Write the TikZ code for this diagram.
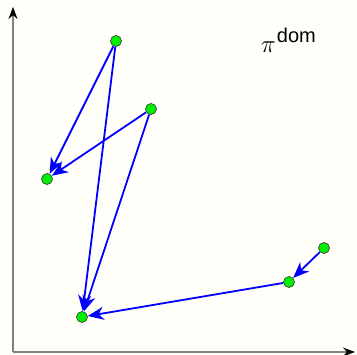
\documentclass[tikz,border=0pt]{standalone}
\usepackage{fontspec}
\setmainfont{Liberation Sans}
\usepackage{tikz}
\usetikzlibrary{arrows.meta, positioning}
\definecolor{paper}{RGB}{255,254,248}
\tikzset{
  point/.style={
    circle, draw=black!75, fill=green!90!black!60!green, line width=0.7pt,
    minimum size=11pt, inner sep=0pt
  },
  move/.style={-{Stealth[length=16pt,width=13pt,inset=5pt]}, line width=1.8pt, draw=blue},
  axis/.style={-{Stealth[length=12pt,width=9pt,black]}, line width=1.5pt, draw=gray}
}

\begin{document}
\begin{tikzpicture}[x=1pt, y=-1pt]

% Frame and paper
\fill[paper] (0,0) rectangle (357,355);
\useasboundingbox (0,0) rectangle (357,355);

% Axes
\coordinate (origin) at (13,352);
\coordinate (ytop) at (13,7);
\coordinate (xend) at (355,352);
\draw[axis] (origin) -- (ytop);
\draw[axis] (origin) -- (xend);

% Label
\node[anchor=base west, inner sep=0pt] (title) at (261,53)
  {\fontsize{28}{30}\selectfont$\pi$\hspace{1pt}\raisebox{10pt}{\fontsize{20}{22}\selectfont dom}};

% Points
\node[point] (p1) at (116,41) {};
\node[point] (p2) at (151,109) {};
\node[point] (p3) at (47,179) {};
\node[point] (p4) at (82,317) {};
\node[point] (p5) at (289,282) {};
\node[point] (p6) at (324,248) {};

% Moves
\draw[move] (p1) -- (p3);
\draw[move] (p2) -- (p3);
\draw[move] (p1) -- (p4);
\draw[move] (p2) -- (p4);
\draw[move] (p5) -- (p4);
\draw[move] (p6) -- (p5);

\end{tikzpicture}
\end{document}
